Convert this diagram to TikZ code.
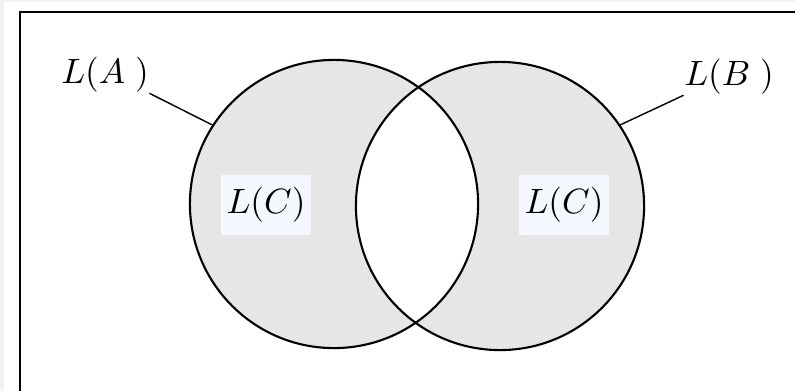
\documentclass[tikz,border=0pt]{standalone}
\usepackage{amsmath}
\usepackage{xcolor}
\usepackage{tikz}
\usetikzlibrary{positioning}
\definecolor{setgray}{HTML}{E6E6E6}
\definecolor{tagfill}{HTML}{F5F7FF}
\definecolor{page}{HTML}{F2F2F2}

\begin{document}
\begin{tikzpicture}[
    x=0.01cm, y=-0.01cm,
    setcircle/.style={circle, draw=black, semithick, minimum size=2.88cm, inner sep=0pt},
    tag/.style={rectangle, fill=tagfill, inner xsep=1.7pt, minimum height=0.59cm},
    setlabel/.style={inner sep=0pt},
    link/.style={-, black, thin}
]

\useasboundingbox (0,0) rectangle (795,391);
\fill[page] (0,0) rectangle (795,391);
\fill[white] (4,2) rectangle (795,391);
\draw[thick] (20,391) -- (20,12) -- (795,12);

\coordinate (ca) at (334,204);
\coordinate (cb) at (500,206);

\fill[setgray] (ca) circle (144);
\fill[setgray] (cb) circle (144);
\begin{scope}
\clip (ca) circle (144);
\fill[white] (cb) circle (144);
\end{scope}

\node[setcircle] (A) at (ca) {};
\node[setcircle] (B) at (cb) {};

\node[setlabel] (la) at (105,75) {$L(A\;)$};
\node[setlabel] (lb) at (729,77) {$L(B\;)$};

\node[tag] (lca) at (266,205) {$L(C)$};
\node[tag] (lcb) at (564,205) {$L(C)$};

\draw[link] (la.south east) -- (A.147);
\draw[link] (lb.south west) -- (B.34);

\end{tikzpicture}
\end{document}
